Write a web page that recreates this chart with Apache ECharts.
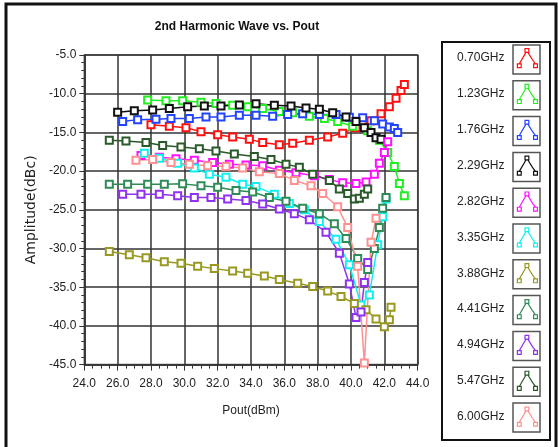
<!DOCTYPE html>
<html><head><meta charset="utf-8">
<script src="https://cdn.jsdelivr.net/npm/echarts@6/dist/echarts.min.js"></script>
<style>html,body{margin:0;padding:0;background:#fff}#c{width:558px;height:447px}</style>
</head><body><div id="c"></div>
<script>
const seriesNames = ['0.70GHz','1.23GHz','1.76GHz','2.29GHz','2.82GHz','3.35GHz','3.88GHz','4.41GHz','4.94GHz','5.47GHz','6.00GHz'];
const seriesColors = ['#ff1010','#22ee22','#2244ff','#111111','#ff10ff','#10f0f0','#999922','#2e8b57','#9030f0','#2a5a2a','#ff9090'];

const pout_070 = [28.0,29.1,30.1,31.0,32.0,32.9,33.9,34.7,35.7,36.5,37.5,38.6,39.5,40.3,41.2,41.8,42.3,42.7,43.0,43.2];
const amp_070  = [-14.0,-14.2,-14.4,-14.9,-15.3,-15.6,-15.9,-16.3,-16.6,-16.4,-16.0,-15.6,-15.1,-14.4,-13.5,-12.6,-11.7,-10.6,-9.6,-8.8];

const pout_123 = [27.8,28.9,29.9,31.0,31.9,32.9,33.8,34.7,35.7,36.5,37.5,38.4,39.2,40.1,41.0,41.7,42.2,42.6,42.9,43.2];
const amp_123  = [-10.8,-10.9,-10.9,-11.1,-11.25,-11.5,-11.7,-11.9,-12.3,-12.45,-12.9,-13.2,-13.6,-14.2,-14.8,-16.0,-17.6,-19.4,-21.6,-23.2];

const pout_176 = [26.3,27.2,28.3,29.2,30.3,31.3,32.2,33.3,34.3,35.3,36.2,37.1,38.1,39.1,39.9,40.7,41.4,41.9,42.3,42.6,42.8];
const amp_176  = [-13.6,-13.35,-13.3,-13.2,-13.2,-13.0,-13.0,-12.8,-12.8,-12.9,-12.7,-12.6,-12.7,-12.7,-13.05,-13.1,-13.5,-13.9,-14.3,-14.5,-15.0];

const pout_229 = [26.0,27.0,28.1,29.1,30.2,31.2,32.2,33.3,34.3,35.4,36.4,37.3,38.1,38.9,39.7,40.3,40.8,41.2,41.5,41.8];
const amp_229  = [-12.4,-12.2,-12.1,-11.9,-11.7,-11.6,-11.6,-11.45,-11.3,-11.5,-11.6,-11.85,-12.0,-12.45,-13.0,-13.6,-14.4,-15.0,-15.7,-15.9];

const pout_282 = [27.4,28.5,29.5,30.6,31.7,32.7,33.7,34.7,35.7,36.7,37.8,38.7,39.5,40.3,40.9,41.4,41.7,42.0,42.2];
const amp_282  = [-18.0,-18.2,-18.4,-18.6,-18.9,-19.1,-19.2,-19.3,-19.9,-20.2,-20.6,-21.1,-21.5,-21.6,-21.4,-20.4,-19.0,-17.6,-16.2];

const pout_335 = [27.6,28.5,29.6,30.6,31.5,32.5,33.5,34.3,35.4,36.3,37.2,38.1,39.1,39.9,40.6,41.1,41.6,41.9,42.1];
const amp_335  = [-17.7,-18.35,-19.0,-19.6,-20.4,-20.8,-21.7,-22.0,-23.0,-24.2,-25.0,-26.5,-28.8,-32.1,-37.3,-36.0,-29.5,-25.9,-23.6];

const pout_388 = [25.5,26.7,27.7,28.8,29.8,30.8,31.8,32.9,33.8,34.8,35.7,36.8,37.7,38.6,39.4,40.2,40.9,41.5,42.0,42.3,42.4];
const amp_388  = [-30.4,-30.8,-31.2,-31.7,-31.9,-32.3,-32.6,-32.9,-33.2,-33.55,-34.0,-34.5,-34.9,-35.5,-36.2,-37.1,-37.9,-39.1,-40.1,-39.2,-37.6];

const pout_441 = [25.5,26.6,27.8,28.8,29.9,31.0,32.0,33.1,34.1,35.1,36.1,37.1,38.1,39.0,39.7,40.4,41.0,41.4,41.7,41.9,42.1];
const amp_441  = [-21.7,-21.7,-21.7,-21.7,-21.65,-21.9,-22.1,-22.5,-22.7,-23.4,-23.9,-24.8,-25.5,-26.8,-28.7,-31.3,-32.7,-30.0,-27.3,-24.8,-23.4];

const pout_494 = [26.3,27.4,28.5,29.6,30.6,31.6,32.6,33.7,34.7,35.7,36.6,37.5,38.5,39.3,39.9,40.3,40.6,40.8,41.0];
const amp_494  = [-23.0,-23.0,-23.0,-23.2,-23.4,-23.4,-23.6,-23.8,-24.25,-24.9,-25.5,-26.3,-27.9,-30.6,-34.6,-38.9,-38.2,-34.4,-31.8];

const pout_547 = [25.5,26.5,27.7,28.7,29.8,30.9,31.9,33.0,34.2,35.2,36.1,36.9,37.7,38.7,39.3,39.8,40.2,40.5,40.8,41.0];
const amp_547  = [-16.0,-16.1,-16.3,-16.7,-16.9,-17.1,-17.4,-17.8,-18.1,-18.5,-19.1,-19.5,-20.4,-21.2,-22.3,-22.9,-23.6,-23.5,-23.0,-22.3];

const pout_600 = [27.1,28.1,29.2,30.3,31.4,32.5,33.5,34.5,35.7,36.6,37.6,38.3,39.2,39.8,40.4,40.8,41.2,41.5];
const amp_600  = [-18.6,-18.5,-18.9,-19.1,-19.3,-19.4,-19.6,-20.1,-20.3,-21.2,-21.9,-22.9,-24.6,-27.3,-32.3,-44.8,-29.2,-26.1];

const allPout = [pout_070,pout_123,pout_176,pout_229,pout_282,pout_335,pout_388,pout_441,pout_494,pout_547,pout_600];
const allAmp  = [amp_070,amp_123,amp_176,amp_229,amp_282,amp_335,amp_388,amp_441,amp_494,amp_547,amp_600];

const FONT = 'Liberation Sans';
const glyph = 'path://M0,17h4v4h-4z M8,1h4v4h-4z M17,17h4v4h-4z M2,17L9,5 M11,5L16,13L19,17';

const chart = echarts.init(document.getElementById('c'), null, {renderer:'canvas'});

const series = seriesNames.map((n,i)=>({
  name:n, type:'line',
  data: allPout[i].map((x,k)=>[x, allAmp[i][k]]),
  symbol:'emptyRect', symbolSize:7,
  lineStyle:{color:seriesColors[i], width:1.5},
  itemStyle:{color:seriesColors[i], borderColor:seriesColors[i], borderWidth:1.3},
  emphasis:{disabled:true},
  animation:false
}));

const graphics = [
  {type:'rect', shape:{x:6,y:4,width:550,height:460}, style:{fill:'none', stroke:'#111', lineWidth:3}, z:-10},
  {type:'rect', shape:{x:442,y:42,width:108,height:398}, style:{fill:'#fff', stroke:'#111', lineWidth:2}, z:-5}
];
seriesNames.forEach((n,i)=>{
  graphics.push({type:'rect', shape:{x:513, y:45+i*35.8, width:27, height:29}, style:{fill:'none', stroke:'#555', lineWidth:1.5}, z:-4});
});

chart.setOption({
  animation:false,
  backgroundColor:'#fff',
  title:{text:'2nd Harmonic Wave vs. Pout', left:232, top:16, textAlign:'center',
    textStyle:{fontFamily:FONT, fontSize:12, fontWeight:'bold', color:'#111'}},
  grid:{left:84.3, right:140.3, top:55, bottom:82.4, show:true, borderColor:'#666', borderWidth:1.5, backgroundColor:'#fff'},
  legend:{
    orient:'vertical', right:20, top:48, itemWidth:20, itemHeight:22, itemGap:15.6, align:'right', padding:0,
    selectedMode:false,
    textStyle:{fontFamily:FONT, fontSize:12, color:'#222', padding:[0,8,0,0]},
    data: seriesNames.map((n,i)=>({name:n, icon:glyph, itemStyle:{color:'rgba(0,0,0,0)', borderColor:seriesColors[i], borderWidth:1.2}}))
  },
  xAxis:{type:'value', min:24, max:44, interval:2,
    name:'Pout(dBm)', nameLocation:'middle', nameGap:40, nameTextStyle:{fontFamily:FONT, fontSize:12, color:'#222'},
    axisLine:{show:true, lineStyle:{color:'#333', width:1.5}},
    axisTick:{show:true, length:6, lineStyle:{color:'#333'}},
    minorTick:{show:true, splitNumber:4, length:4, lineStyle:{color:'#333'}},
    axisLabel:{margin:13, formatter:v=>v.toFixed(1), fontFamily:FONT, fontSize:12, color:'#222'},
    splitLine:{show:true, lineStyle:{color:'#333', width:1.5}}
  },
  yAxis:{type:'value', min:-45, max:-5, interval:5,
    name:'Amplitude(dBc)', nameLocation:'middle', nameGap:40, nameRotate:90,
    nameTextStyle:{fontFamily:'DejaVu Sans', fontSize:14, color:'#222'},
    axisLine:{show:true, lineStyle:{color:'#333', width:1.5}},
    axisTick:{show:true, length:5, lineStyle:{color:'#333'}},
    minorTick:{show:true, splitNumber:5, length:3, lineStyle:{color:'#333'}},
    axisLabel:{margin:8, formatter:v=>v.toFixed(1), fontFamily:FONT, fontSize:12, color:'#222'},
    splitLine:{show:true, lineStyle:{color:'#333', width:1.5}}
  },
  graphic:graphics,
  series:series
});
</script></body></html>
